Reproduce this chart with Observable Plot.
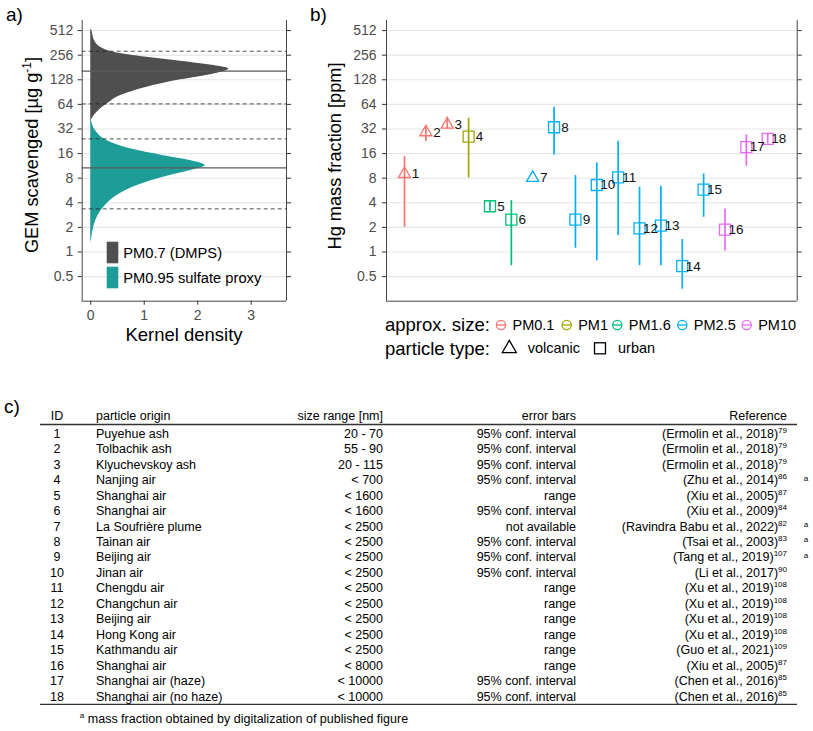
<!DOCTYPE html>
<html><head><meta charset="utf-8">
<script src="https://cdn.jsdelivr.net/npm/d3@7"></script>
<script src="https://cdn.jsdelivr.net/npm/@observablehq/plot@0.6"></script>
<style>
body{margin:0;background:#fff;font-family:"Liberation Sans",Arial,Helvetica,sans-serif;}
#wrap{position:relative;width:813px;height:731px;overflow:hidden;background:#fff;}
#wrap svg{position:absolute;}
g[aria-label="y-axis tick label"], g[aria-label="x-axis tick label"]{fill:#4d4d4d;}
</style></head>
<body><div id="wrap"></div>
<script>
// ---------- data ----------
const tickVals = [0.5, 1, 2, 4, 8, 16, 32, 64, 128, 256, 512];
const densTicks = [0, 1, 2, 3];

// panel a: kernel density (value in ug/g, density)
const grayVals = [38, 40.6, 44.7, 54, 65, 82, 104, 128, 151, 174, 191, 216, 241, 278, 320, 386, 450, 512, 540];
const grayDens = [0, 0.01, 0.045, 0.15, 0.31, 0.56, 1.05, 1.68, 2.30, 2.58, 2.30, 1.68, 1.05, 0.43, 0.18, 0.07, 0.04, 0.02, 0];
const tealVals = [1.3, 1.38, 1.67, 2.4, 3.5, 4.9, 6.5, 8.2, 9.9, 11.4, 13.2, 15.1, 18.3, 23, 30.5, 40, 44];
const tealDens = [0, 0.01, 0.03, 0.09, 0.24, 0.49, 0.87, 1.36, 1.86, 2.14, 1.86, 1.36, 0.74, 0.31, 0.09, 0.015, 0];
const solidLines = [163, 10.7];
const dashedLines = [286, 64.9, 24.2, 3.37];
const densLegend = ["PM0.7 (DMPS)", "PM0.95 sulfate proxy"];

// panel b
const ids = [1,2,3,4,5,6,7,8,9,10,11,12,13,14,15,16,17,18];
const hgValue = [9.0, 29.2, 36.2, 25.8, 3.63, 2.49, 8.06, 33.6, 2.49, 6.6, 8.2, 1.95, 2.1, 0.67, 5.8, 1.88, 19.2, 24.2];
const hgLow   = [2.0, 22.5, 32, 8.06, 3.15, 0.68, null, 15.4, 1.11, 0.78, 1.59, 0.68, 0.68, 0.35, 2.66, 1.02, 11.2, 21];
const hgHigh  = [14.8, 35, 44.6, 43.3, 4.25, 4.25, null, 58.9, 8.6, 12.3, 22.6, 6.2, 6.37, 1.42, 9.0, 3.36, 27.1, 27.8];
const sizeClass = ["PM0.1","PM0.1","PM0.1","PM1","PM1.6","PM1.6","PM2.5","PM2.5","PM2.5","PM2.5","PM2.5","PM2.5","PM2.5","PM2.5","PM2.5","PM10","PM10","PM10"];
const particleType = ["volcanic","volcanic","volcanic","urban","urban","urban","volcanic","urban","urban","urban","urban","urban","urban","urban","urban","urban","urban","urban"];
const sizeCats = ["PM0.1","PM1","PM1.6","PM2.5","PM10"];
const sizeColors = ["#F8766D","#A3A500","#00BF7D","#00B0F6","#E76BF3"];
const typeCats = ["volcanic","urban"];

// panel c table
const tableHeader = ["ID","particle origin","size range [nm]","error bars","Reference"];
const origins = ["Puyehue ash","Tolbachik ash","Klyuchevskoy ash","Nanjing air","Shanghai air","Shanghai air","La Soufrière plume","Tainan air","Beijing air","Jinan air","Chengdu air","Changchun air","Beijing air","Hong Kong air","Kathmandu air","Shanghai air","Shanghai air (haze)","Shanghai air (no haze)"];
const sizeRanges = ["20 - 70","55 - 90","20 - 115","< 700","< 1600","< 1600","< 2500","< 2500","< 2500","< 2500","< 2500","< 2500","< 2500","< 2500","< 2500","< 8000","< 10000","< 10000"];
const errorBars = ["95% conf. interval","95% conf. interval","95% conf. interval","95% conf. interval","range","95% conf. interval","not available","95% conf. interval","95% conf. interval","95% conf. interval","range","range","range","range","range","range","95% conf. interval","95% conf. interval"];
const refs = ["(Ermolin et al., 2018)","(Ermolin et al., 2018)","(Ermolin et al., 2018)","(Zhu et al., 2014)","(Xiu et al., 2005)","(Xiu et al., 2009)","(Ravindra Babu et al., 2022)","(Tsai et al., 2003)","(Tang et al., 2019)","(Li et al., 2017)","(Xu et al., 2019)","(Xu et al., 2019)","(Xu et al., 2019)","(Xu et al., 2019)","(Guo et al., 2021)","(Xiu et al., 2005)","(Chen et al., 2016)","(Chen et al., 2016)"];
const refNums = ["79","79","79","86","87","84","82","83","107","90","108","108","108","108","109","87","85","85"];
const digitized = [4, 7, 8, 9];
const footnote = "mass fraction obtained by digitalization of published figure";

// ---------- build ----------
const FONT = '"Liberation Sans", Arial, Helvetica, sans-serif';
const wrap = document.getElementById("wrap");
const Y_DOMAIN = [0.25, 680];

const grayData = grayVals.map((v, i) => ({v, d: grayDens[i]}));
const tealData = tealVals.map((v, i) => ({v, d: tealDens[i]}));
const GRAY = "#4f4f4f", TEAL = "#1e9c97";

const ax0 = -0.16, ax1 = 3.66;
const plotA = Plot.plot({
  width: 300, height: 350,
  marginLeft: 81.7, marginRight: 14, marginTop: 20, marginBottom: 49.3,
  x: {domain: [ax0, ax1], axis: null},
  y: {type: "log", base: 2, domain: Y_DOMAIN, axis: null},
  style: {fontFamily: FONT, background: "transparent", overflow: "visible"},
  marks: [
    Plot.gridY(tickVals, {stroke: "#e6e6e6", strokeOpacity: 1, strokeWidth: 1.1}),
    Plot.areaX(grayData, {x: "d", y: "v", fill: GRAY, curve: "monotone-y"}),
    Plot.areaX(tealData, {x: "d", y: "v", fill: TEAL, curve: "monotone-y"}),
    Plot.ruleY(solidLines, {stroke: "#5a5a5a", strokeWidth: 1.2}),
    Plot.ruleY(dashedLines, {stroke: "#222", strokeWidth: 0.8, strokeDasharray: "4,3"}),
    Plot.ruleX([ax0, ax1], {stroke: "#444", strokeWidth: 1}),
    Plot.ruleY([Y_DOMAIN[0]], {stroke: "#444", strokeWidth: 1}),
    Plot.axisY(tickVals, {anchor: "left", tickSize: 4, tickPadding: 5, fontSize: 14, label: null, tickFormat: d => String(d), stroke: "#333"}),
    Plot.axisY(tickVals, {anchor: "right", tickSize: 4, tickFormat: () => "", label: null, stroke: "#333"}),
    Plot.axisX(densTicks, {anchor: "bottom", tickSize: 4, tickPadding: 5, fontSize: 14, label: null, tickFormat: d => String(d), stroke: "#333"})
  ]
});
plotA.style.left = "0px"; plotA.style.top = "0px";
wrap.appendChild(plotA);

const rows = ids.map((id, i) => ({id, hg: hgValue[i], lo: hgLow[i], hi: hgHigh[i], size: sizeClass[i], type: particleType[i]}));
const bx0 = 0.157, bx1 = 19.38;
const plotB = Plot.plot({
  width: 513, height: 310,
  marginLeft: 86, marginRight: 16.3, marginTop: 20, marginBottom: 9.3,
  x: {domain: [bx0, bx1], axis: null},
  y: {type: "log", base: 2, domain: Y_DOMAIN, axis: null},
  color: {domain: sizeCats, range: sizeColors},
  symbol: {domain: typeCats, range: ["triangle", "square"]},
  style: {fontFamily: FONT, background: "transparent", overflow: "visible"},
  marks: [
    Plot.gridY(tickVals, {stroke: "#e6e6e6", strokeOpacity: 1, strokeWidth: 1.1}),
    Plot.ruleX(rows.filter(d => d.lo != null), {x: "id", y1: "lo", y2: "hi", stroke: "size", strokeWidth: 1.7}),
    Plot.dot(rows.filter(d => d.type === "volcanic"), {x: "id", y: "hg", stroke: "size", symbol: "type", r: 4.5, strokeWidth: 1.3, fill: "none"}),
    Plot.dot(rows.filter(d => d.type === "urban"), {x: "id", y: "hg", stroke: "size", symbol: "type", r: 6.2, strokeWidth: 1.3, fill: "none"}),
    Plot.text(rows, {x: "id", y: "hg", text: d => String(d.id), dx: 11, textAnchor: "middle", fontSize: 13.5, fill: "#111"}),
    Plot.ruleX([bx0, bx1], {stroke: "#444", strokeWidth: 1}),
    Plot.ruleY([Y_DOMAIN[0]], {stroke: "#444", strokeWidth: 1}),
    Plot.axisY(tickVals, {anchor: "left", tickSize: 4, tickPadding: 6, fontSize: 14, label: null, tickFormat: d => String(d), stroke: "#333"}),
    Plot.axisY(tickVals, {anchor: "right", tickSize: 4, tickFormat: () => "", label: null, stroke: "#333"})
  ]
});
plotB.style.left = "300px"; plotB.style.top = "0px";
wrap.appendChild(plotB);

// ---------- overlay: titles, legends, table ----------
const svg = d3.select(wrap).append("svg")
  .attr("width", 813).attr("height", 731)
  .style("left", "0px").style("top", "0px")
  .style("font-family", FONT);

function txt(x, y, s, size, anchor = "start", fill = "#000") {
  return svg.append("text").attr("x", x).attr("y", y + 0.35 * size)
    .attr("font-size", size).attr("text-anchor", anchor).attr("fill", fill).text(s);
}

// panel labels
txt(6, 14, "a)", 19);
txt(310, 14, "b)", 19);
txt(4, 406, "c)", 19);

// axis titles
const ta = svg.append("text").attr("transform", "translate(38,155) rotate(-90)")
  .attr("text-anchor", "middle").attr("font-size", 18.2).attr("fill", "#000");
ta.append("tspan").text("GEM scavenged [µg g");
ta.append("tspan").attr("font-size", 12).attr("dy", -7).text("-1");
ta.append("tspan").attr("dy", 7).text("]");
svg.append("text").attr("transform", "translate(341,156) rotate(-90)")
  .attr("text-anchor", "middle").attr("font-size", 18.2).attr("fill", "#000").text("Hg mass fraction [ppm]");
svg.append("text").attr("x", 184).attr("y", 341).attr("text-anchor", "middle").attr("font-size", 18.5).text("Kernel density");

// panel a legend
[[GRAY, 241.7], [TEAL, 266.7]].forEach(([c, y], i) => {
  svg.append("rect").attr("x", 106.7).attr("y", y).attr("width", 11.6).attr("height", 21.6).attr("fill", c);
  txt(123.3, y + 10.8, densLegend[i], 14.7);
});

// panel b legend
txt(385, 325, "approx. size:", 18.5);
const sizeIconX = [501, 566.7, 617.3, 682.3, 746.7];
sizeCats.forEach((c, i) => {
  const cx = sizeIconX[i], cy = 325;
  svg.append("circle").attr("cx", cx).attr("cy", cy).attr("r", 4.6).attr("fill", "none").attr("stroke", sizeColors[i]).attr("stroke-width", 1.3);
  svg.append("line").attr("x1", cx - 4.6).attr("x2", cx + 4.6).attr("y1", cy).attr("y2", cy).attr("stroke", sizeColors[i]).attr("stroke-width", 1.3);
  txt(cx + 11.5, cy, c, 14.5);
});
txt(385, 348.3, "particle type:", 18.5);
svg.append("path").attr("d", d3.symbol(d3.symbolTriangle, Math.PI * 5.2 * 5.2)()).attr("transform", "translate(509.3,348.5)")
  .attr("fill", "none").attr("stroke", "#000").attr("stroke-width", 1.3);
txt(527.7, 348.3, "volcanic", 14.5);
svg.append("rect").attr("x", 594.5).attr("y", 342.8).attr("width", 11).attr("height", 11).attr("fill", "none").attr("stroke", "#000").attr("stroke-width", 1.3);
txt(618, 348.3, "urban", 14.5);

// panel c table
const FS = 12.5;
const headY = 415.5, line1Y = 424.5, row0Y = 433.5, rowStep = 15.45;
const colID = 57, colOrigin = 96, colSize = 383, colErr = 576, colRef = 787;
txt(colID, headY, tableHeader[0], FS, "middle");
txt(colOrigin, headY, tableHeader[1], FS, "start");
txt(colSize, headY, tableHeader[2], FS, "end");
txt(colErr, headY, tableHeader[3], FS, "end");
txt(colRef, headY, tableHeader[4], FS, "end");
const lastY = row0Y + rowStep * (ids.length - 1);
const line2Y = lastY + 8.3;
svg.append("line").attr("x1", 40).attr("x2", 797).attr("y1", line1Y).attr("y2", line1Y).attr("stroke", "#333").attr("stroke-width", 1.3);
svg.append("line").attr("x1", 40).attr("x2", 797).attr("y1", line2Y).attr("y2", line2Y).attr("stroke", "#333").attr("stroke-width", 1.3);
ids.forEach((id, i) => {
  const y = row0Y + rowStep * i;
  txt(colID, y, String(id), FS, "middle");
  txt(colOrigin, y, origins[i], FS, "start");
  txt(colSize, y, sizeRanges[i], FS, "end");
  txt(colErr, y, errorBars[i], FS, "end");
  const t = svg.append("text").attr("x", colRef).attr("y", y + 0.35 * FS).attr("font-size", FS).attr("text-anchor", "end");
  t.append("tspan").text(refs[i]);
  t.append("tspan").attr("font-size", 8).attr("dy", -5).text(refNums[i]);
  if (digitized.includes(id)) txt(806, y - 2, "a", 8, "middle");
});
const fn = svg.append("text").attr("x", 244).attr("y", line2Y + 14 + 0.35 * FS).attr("font-size", FS).attr("text-anchor", "middle");
fn.append("tspan").attr("font-size", 8).attr("dy", -5).text("a");
fn.append("tspan").attr("dy", 5).text(" " + footnote);
</script>
</body></html>
